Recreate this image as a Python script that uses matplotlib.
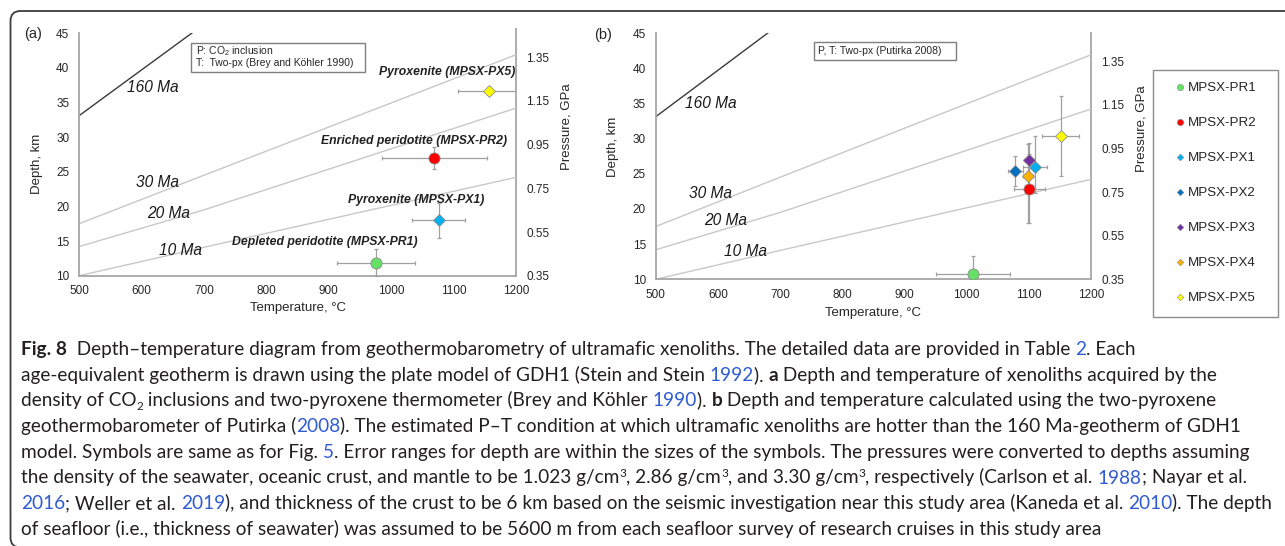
import matplotlib
matplotlib.use("Agg")
import matplotlib.pyplot as plt
from matplotlib.lines import Line2D
from matplotlib.patches import Rectangle, FancyBboxPatch
from matplotlib.transforms import IdentityTransform

plt.rcParams["font.family"] = ["Liberation Sans", "DejaVu Sans"]
plt.rcParams["mathtext.fontset"] = "custom"
plt.rcParams["mathtext.rm"] = "Liberation Sans"
plt.rcParams["mathtext.it"] = "Liberation Sans:italic"
plt.rcParams["mathtext.bf"] = "Liberation Sans:bold"

# ---- data -------------------------------------------------------------
samples = ["MPSX-PR1", "MPSX-PR2", "MPSX-PX1", "MPSX-PX2",
           "MPSX-PX3", "MPSX-PX4", "MPSX-PX5"]
colors = ["#66E066", "#FF0000", "#00B0F0", "#0070C0",
          "#7030A0", "#FFB000", "#FFFF00"]
markers = ["o", "o", "D", "D", "D", "D", "D"]

# plate-model (GDH1) geotherms, depth in km vs temperature in degC
geo_temp = [500, 700, 1200]
geo_10ma = [10.0, 14.1, 24.2]
geo_20ma = [14.2, 19.5, 34.2]
geo_30ma = [17.5, 24.5, 41.9]
geo_160_temp = [500, 700]
geo_160ma = [33.1, 46.3]

# (a) CO2 inclusion barometry + two-px thermometry (Brey & Kohler 1990)
a_idx = [0, 1, 2, 6]
a_names = ["Depleted peridotite (MPSX-PR1)", "Enriched peridotite (MPSX-PR2)",
           "Pyroxenite (MPSX-PX1)", "Pyroxenite (MPSX-PX5)"]
a_temp = [976, 1069, 1076, 1157]
a_temp_err = [62, 84, 42, 50]
a_depth = [11.9, 27.0, 18.0, 36.7]
a_depth_err = [1.9, 1.6, 2.5, 0.0]

# (b) two-px thermobarometry (Putirka 2008)
b_temp = [1010, 1101, 1110, 1078, 1101, 1098, 1151]
b_temp_err = [60, 25, 20, 12, 8, 8, 30]
b_depth = [10.75, 22.9, 26.0, 25.4, 26.9, 24.7, 30.4]
b_depth_lo = [2.5, 4.9, 3.7, 2.1, 2.4, 6.7, 5.7]
b_depth_hi = [2.5, 4.9, 4.4, 2.1, 2.4, 4.5, 5.7]

pressure_ticks = [0.35, 0.55, 0.75, 0.95, 1.15, 1.35]

# ---- figure ------------------------------------------------------------
W, H = 1285, 546
fig = plt.figure(figsize=(W / 100, H / 100), dpi=100)
px = IdentityTransform()

TXT = "#262626"
ERR = "#A0A0A0"
SPINE = "#A6A6A6"


def add_axes_px(left, top, right, bottom):
    return fig.add_axes([left / W, 1 - bottom / H, (right - left) / W, (bottom - top) / H])


def setup_axes(ax, ptop, spine_top):
    ax.set_xlim(500, 1200)
    ax.set_ylim(10, 45)
    ax.set_xticks(range(500, 1201, 100))
    ax.set_yticks(range(10, 46, 5))
    ax.tick_params(length=0, labelsize=8.5, labelcolor=TXT, pad=7)
    for s in ["top", "right"]:
        ax.spines[s].set_visible(False)
    for s in ["left", "bottom"]:
        ax.spines[s].set_color(SPINE)
        ax.spines[s].set_linewidth(1.3)
    ax2 = ax.twinx()
    ax2.set_ylim(0.35, ptop)
    ax2.set_yticks(pressure_ticks)
    ax2.set_yticklabels([f"{p:.2f}" for p in pressure_ticks])
    ax2.tick_params(length=0, labelsize=8.5, labelcolor=TXT, pad=7.5)
    for s in ["top", "left", "bottom"]:
        ax2.spines[s].set_visible(False)
    ax2.spines["right"].set_color(SPINE)
    ax2.spines["right"].set_linewidth(1.3)
    ax2.spines["right"].set_bounds(0.35, spine_top)
    ax.set_zorder(ax2.get_zorder() + 1)
    ax.patch.set_visible(False)
    return ax2


def draw_geotherms(ax, label_pos):
    for depth in [geo_10ma, geo_20ma, geo_30ma]:
        ax.plot(geo_temp, depth, color="#C8C8C8", lw=1.0, zorder=1)
    ax.plot(geo_160_temp, geo_160ma, color="#3A3A3A", lw=1.0, zorder=1)
    for txt, (x, y) in zip(["10 Ma", "20 Ma", "30 Ma", "160 Ma"], label_pos):
        ax.text(x, y, txt, fontsize=11.2, style="italic", color="#1A1A1A",
                ha="center", va="center", zorder=2)


def axis_labels(ax, xlab_y, dep_xy, pres_xy):
    ax.text(0.5, xlab_y, "Temperature, °C", transform=ax.transAxes,
            ha="center", va="center", fontsize=9.5, color=TXT)
    ax.text(dep_xy[0], dep_xy[1], "Depth, km", transform=ax.transAxes,
            rotation=90, ha="center", va="center", fontsize=9.5, color=TXT)
    ax.text(pres_xy[0], pres_xy[1], "Pressure, GPa", transform=ax.transAxes,
            rotation=90, ha="center", va="center", fontsize=9.5, color=TXT)


# ---- panel (a) ---------------------------------------------------------
axa = add_axes_px(79, 33.3, 516, 275.7)
axa2 = setup_axes(axa, 1.46, 1.478)
draw_geotherms(axa, [(663, 13.6), (643, 19.0), (625, 23.4), (618, 37.2)])

for k, i in enumerate(a_idx):
    axa.errorbar(a_temp[k], a_depth[k], xerr=a_temp_err[k],
                 yerr=a_depth_err[k] if a_depth_err[k] > 0 else None,
                 fmt="none", ecolor=ERR, elinewidth=0.9, capsize=1.5,
                 capthick=0.9, zorder=3)
for k, i in enumerate(a_idx):
    ms = 8 if markers[i] == "o" else 6.4
    axa.plot(a_temp[k], a_depth[k], ls="none", marker=markers[i], ms=ms,
             mfc=colors[i], mec="#8C8C8C", mew=0.6, zorder=4)

a_name_pos = [(894, 14.9), (1036, 29.45), (1040, 21.0), (1090, 39.45)]
for name, (x, y) in zip(a_names, a_name_pos):
    axa.text(x, y, name, fontsize=8.8, fontweight="bold", style="italic",
             color="#222222", ha="center", va="center", zorder=5)

axa.add_patch(Rectangle((0.2563, 0.8391), 0.3982, 0.1221, transform=axa.transAxes,
                        fc="white", ec="#7F7F7F", lw=1.0, zorder=5))
axa.text(0.2677, 0.9282, "P: CO$_2$ inclusion", transform=axa.transAxes,
         fontsize=7.5, color=TXT, va="center", zorder=6)
axa.text(0.2677, 0.8762, "T:  Two-px (Brey and Köhler 1990)", transform=axa.transAxes,
         fontsize=7.5, color=TXT, va="center", zorder=6)
axis_labels(axa, -0.133, (-0.095, 0.461), (1.116, 0.613))

# ---- panel (b) ---------------------------------------------------------
axb = add_axes_px(655.7, 33.0, 1091, 279.3)
axb2 = setup_axes(axb, 1.48, 1.48)
draw_geotherms(axb, [(645, 13.9), (613, 18.4), (588, 22.2), (588, 35.0)])

for i in range(len(samples)):
    axb.errorbar(b_temp[i], b_depth[i], xerr=b_temp_err[i],
                 yerr=[[b_depth_lo[i]], [b_depth_hi[i]]],
                 fmt="none", ecolor=ERR, elinewidth=0.9, capsize=1.5,
                 capthick=0.9, zorder=3)
for i in range(len(samples)):
    ms = 8 if markers[i] == "o" else 6.2
    axb.plot(b_temp[i], b_depth[i], ls="none", marker=markers[i], ms=ms,
             mfc=colors[i], mec="#8C8C8C", mew=0.6, zorder=4)

axb.add_patch(Rectangle((0.3643, 0.8904), 0.3249, 0.0743, transform=axb.transAxes,
                        fc="white", ec="#7F7F7F", lw=1.0, zorder=5))
axb.text(0.3717, 0.9269, "P, T: Two-px (Putirka 2008)", transform=axb.transAxes,
         fontsize=7.5, color=TXT, va="center", zorder=6)
axis_labels(axb, -0.136, (-0.098, 0.538), (1.117, 0.61))

fig.text(33 / W, 1 - 34 / H, "(a)", fontsize=10.5, color=TXT, ha="center", va="center")
fig.text(603 / W, 1 - 35 / H, "(b)", fontsize=10.5, color=TXT, ha="center", va="center")

# ---- legend ------------------------------------------------------------
handles = [Line2D([], [], ls="none", marker=m, color=c, mec="#8C8C8C", mew=0.4,
                  ms=4.6 if m == "o" else 3.4)
           for m, c in zip(markers, colors)]
fig.patches.append(Rectangle((1153, H - 317), 125, 247, transform=px,
                             fc="white", ec="#8C8C8C", lw=1.0, figure=fig))
fig.legend(handles, samples, loc="upper left", bbox_to_anchor=(1174.7 / W, 1 - 82 / H),
           frameon=False, borderpad=0, borderaxespad=0, handlelength=0.8,
           handletextpad=0.2, labelspacing=1.7, fontsize=9.6, labelcolor=TXT)

# ---- outer frame ----------------------------------------------------------
fig.patches.append(FancyBboxPatch((10.5, -1.5), 1300, H - 11 + 1.5,
                                  boxstyle="round,pad=0,rounding_size=10",
                                  transform=px, fill=False, ec="#3C3C3C", lw=1.3,
                                  figure=fig))

# ---- caption -----------------------------------------------------------
LINK = "#2F5BD3"
CAP = "#231F20"
CAP_SIZE = 13.7
caption = [
    [("Fig. 8", "b"), ("  Depth–temperature diagram from geothermobarometry of ultramafic "
                       "xenoliths. The detailed data are provided in Table ", ""),
     ("2", "l"), (". Each", "")],
    [("age-equivalent geotherm is drawn using the plate model of GDH1 (Stein and Stein ", ""),
     ("1992", "l"), ("). ", ""), ("a", "b"),
     (" Depth and temperature of xenoliths acquired by the", "")],
    [("density of CO", ""), ("2", "sub"),
     (" inclusions and two-pyroxene thermometer (Brey and Köhler ", ""), ("1990", "l"),
     ("). ", ""), ("b", "b"), (" Depth and temperature calculated using the two-pyroxene", "")],
    [("geothermobarometer of Putirka (", ""), ("2008", "l"),
     ("). The estimated P–T condition at which ultramafic xenoliths are hotter than "
      "the 160 Ma-geotherm of GDH1", "")],
    [("model. Symbols are same as for Fig. ", ""), ("5", "l"),
     (". Error ranges for depth are within the sizes of the symbols. The pressures "
      "were converted to depths assuming", "")],
    [("the density of the seawater, oceanic crust, and mantle to be 1.023 g/cm", ""),
     ("3", "sup"), (", 2.86 g/cm", ""), ("3", "sup"), (", and 3.30 g/cm", ""), ("3", "sup"),
     (", respectively (Carlson et al. ", ""), ("1988", "l"), ("; Nayar et al.", "")],
    [("2016", "l"), ("; Weller et al. ", ""), ("2019", "l"),
     ("), and thickness of the crust to be 6 km based on the seismic investigation "
      "near this study area (Kaneda et al. ", ""), ("2010", "l"), ("). The depth", "")],
    [("of seafloor (i.e., thickness of seawater) was assumed to be 5600 m from each "
      "seafloor survey of research cruises in this study area", "")],
]

renderer = fig.canvas.get_renderer()


def piece_props(kind):
    p = dict(family=["Lato", "DejaVu Sans"], fontsize=CAP_SIZE, color=CAP)
    if kind == "b":
        p["fontweight"] = "bold"
    elif kind == "l":
        p["color"] = LINK
    elif kind in ("sup", "sub"):
        p["fontsize"] = CAP_SIZE * 0.62
    return p


def advance(s, props):
    t = fig.text(0, 0, "|" + s + "|", transform=px, **props)
    w = t.get_window_extent(renderer).width
    t.set_text("||")
    w -= t.get_window_extent(renderer).width
    t.remove()
    return w


for n, line in enumerate(caption):
    x = 21
    base = H - (355 + 25.7 * n)
    for s, kind in line:
        props = piece_props(kind)
        dy = 0
        if kind == "sup":
            dy = CAP_SIZE * 0.5
        elif kind == "sub":
            dy = -CAP_SIZE * 0.25
        fig.text(x, base + dy, s, transform=px, va="baseline", **props)
        x += advance(s, props)

fig.savefig("out.png", dpi=100)
